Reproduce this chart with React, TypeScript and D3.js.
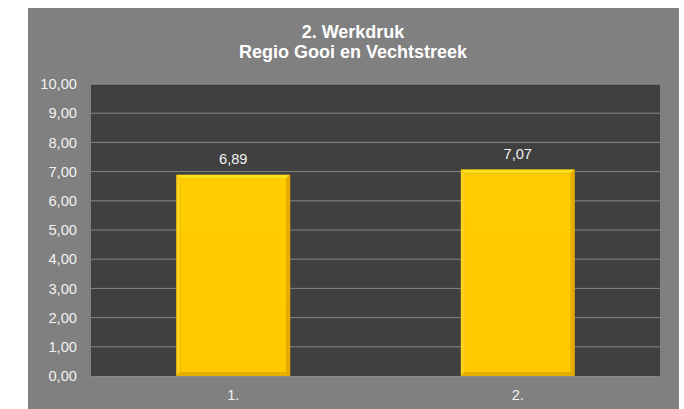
import React from "react";
import * as d3 from "d3";

const titleLines = ["2. Werkdruk", "Regio Gooi en Vechtstreek"];
const categories = ["1.", "2."];
const values = [6.89, 7.07];
const yTicks = [0, 1, 2, 3, 4, 5, 6, 7, 8, 9, 10];

const W = 684;
const H = 409;
const plot = { left: 91, right: 660, top: 84, bottom: 376 };

const fmt = (v: number) => v.toFixed(2).replace(".", ",");

export default function App() {
  const x = d3
    .scaleBand<string>()
    .domain(categories)
    .range([plot.left, plot.right])
    .paddingInner(0.6)
    .paddingOuter(0.3);
  const y = d3.scaleLinear().domain([0, 10]).range([plot.bottom, plot.top]);
  const font = "Arial, 'Liberation Sans', sans-serif";
  const bev = 4;
  const fs = 14.67;

  return (
    <svg
      width={W}
      height={H}
      style={{ position: "absolute", left: 0, top: 0, display: "block" }}
    >
      <defs>
        <linearGradient id="barFace" x1="0" y1="0" x2="0" y2="1">
          <stop offset="0" stopColor="#FFCD00" />
          <stop offset="1" stopColor="#FFC800" />
        </linearGradient>
      </defs>
      <rect x={0} y={0} width={W} height={H} fill="#ffffff" />
      <rect x={28} y={8} width={651} height={H - 8} fill="#808080" />
      <rect
        x={plot.left}
        y={plot.top}
        width={plot.right - plot.left}
        height={plot.bottom - plot.top}
        fill="#404040"
      />
      {yTicks.map((t) => (
        <g key={t}>
          {t > 0 && (
            <line
              x1={plot.left}
              x2={plot.right}
              y1={y(t)}
              y2={y(t)}
              stroke="#858585"
              strokeWidth={1}
            />
          )}
          <text
            x={77}
            y={y(t)}
            dy="0.35em"
            textAnchor="end"
            fontFamily={font}
            fontSize={fs}
            fill="#f2f2f2"
          >
            {fmt(t)}
          </text>
        </g>
      ))}
      {categories.map((c, i) => {
        const bx = x(c)!;
        const bw = x.bandwidth();
        const by = y(values[i]);
        const bh = plot.bottom - by;
        return (
          <g key={c}>
            <rect x={bx} y={by} width={bw} height={bh} fill="#B38A00" />
            <polygon
              points={`${bx},${by} ${bx + bw},${by} ${bx + bw - bev},${by + bev} ${bx + bev},${by + bev}`}
              fill="#FFE11A"
            />
            <polygon
              points={`${bx},${by} ${bx + bev},${by + bev} ${bx + bev},${by + bh - bev} ${bx},${by + bh}`}
              fill="#FFD21A"
            />
            <polygon
              points={`${bx + bw},${by} ${bx + bw},${by + bh} ${bx + bw - bev},${by + bh - bev} ${bx + bw - bev},${by + bev}`}
              fill="#E6AC00"
            />
            <polygon
              points={`${bx},${by + bh} ${bx + bw},${by + bh} ${bx + bw - bev},${by + bh - bev} ${bx + bev},${by + bh - bev}`}
              fill="#E6B000"
            />
            <rect
              x={bx + bev}
              y={by + bev}
              width={bw - 2 * bev}
              height={bh - 2 * bev}
              fill="url(#barFace)"
            />
            <text
              x={bx + bw / 2}
              y={by - 11}
              textAnchor="middle"
              fontFamily={font}
              fontSize={fs}
              fill="#f2f2f2"
            >
              {fmt(values[i])}
            </text>
            <text
              x={bx + bw / 2}
              y={400}
              textAnchor="middle"
              fontFamily={font}
              fontSize={fs}
              fill="#f2f2f2"
            >
              {c}
            </text>
          </g>
        );
      })}
      <line
        x1={plot.left}
        x2={plot.right}
        y1={plot.top}
        y2={plot.top}
        stroke="#858585"
        strokeWidth={1}
      />
      <line
        x1={plot.left}
        x2={plot.right}
        y1={plot.bottom + 0.5}
        y2={plot.bottom + 0.5}
        stroke="#8a8a8a"
        strokeWidth={1}
      />
      {titleLines.map((t, i) => (
        <text
          key={i}
          x={353}
          y={38 + i * 20}
          textAnchor="middle"
          fontFamily={font}
          fontSize={18}
          fontWeight="bold"
          fill="#ffffff"
        >
          {t}
        </text>
      ))}
    </svg>
  );
}
